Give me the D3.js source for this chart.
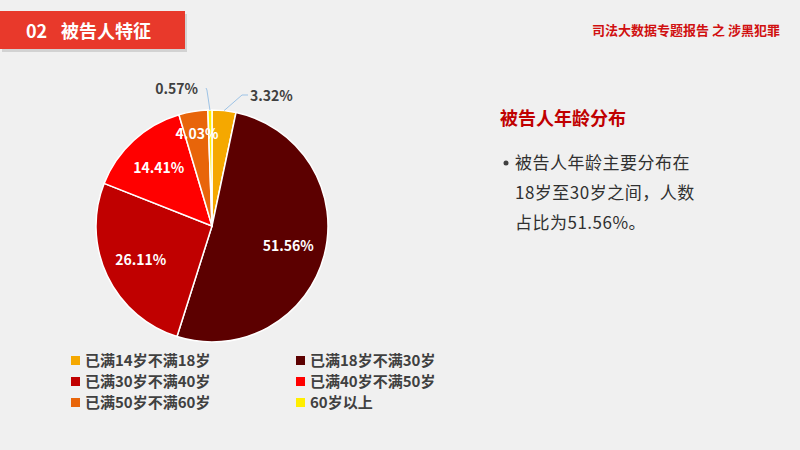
<!DOCTYPE html>
<html lang="zh">
<head>
<meta charset="UTF-8" />
<script src="https://cdn.jsdelivr.net/npm/d3@7"></script>
<style>
  body { margin: 0; background: #f0f0f0; font-family: "Noto Sans CJK SC", "Noto Sans", sans-serif; }
</style>
</head>
<body>
<svg id="chart" width="800" height="450"></svg>
<script>
// data
const categories = ["已满14岁不满18岁", "已满18岁不满30岁", "已满30岁不满40岁", "已满40岁不满50岁", "已满50岁不满60岁", "60岁以上"];
const shares = [3.32, 51.56, 26.11, 14.41, 4.03, 0.57];
const colors = ["#f5a800", "#5c0000", "#c00000", "#ff0000", "#e8650a", "#ffee00"];
const bullet = ["被告人年龄主要分布在", "18岁至30岁之间，人数", "占比为51.56%。"];

const svg = d3.select("#chart");
svg.append("rect").attr("width", 800).attr("height", 450).attr("fill", "#f0f0f0");

// header
svg.append("rect").attr("x", 0).attr("y", 12).attr("width", 185).attr("height", 38)
  .attr("fill", "#000").attr("opacity", 0.12).attr("transform", "translate(2,2)");
svg.append("rect").attr("x", 0).attr("y", 11).attr("width", 185).attr("height", 38).attr("fill", "#e8392b");
svg.append("text").attr("x", 26).attr("y", 38).attr("fill", "#fff")
  .attr("font-size", 18).attr("font-weight", "bold").text("02");
svg.append("text").attr("x", 61).attr("y", 38).attr("fill", "#fff")
  .attr("font-size", 18).attr("font-weight", "bold").text("被告人特征");
svg.append("text").attr("x", 780).attr("y", 35).attr("text-anchor", "end").attr("fill", "#d01010")
  .attr("font-size", 13).attr("font-weight", "bold").text("司法大数据专题报告 之 涉黑犯罪");

// pie
const cx = 212, cy = 226, r = 116;
const pie = d3.pie().sort(null).value(d => d);
const arcs = pie(shares);
const arc = d3.arc().innerRadius(0).outerRadius(r);
const g = svg.append("g").attr("transform", `translate(${cx},${cy})`);
g.selectAll("path").data(arcs).join("path")
  .attr("d", arc).attr("fill", (d, i) => colors[i])
  .attr("stroke", "#fff").attr("stroke-width", 1.5);

const inner = d3.arc().innerRadius(r * 0.68).outerRadius(r * 0.68);
const labelArc = i => i === 4 ? d3.arc().innerRadius(r * 0.8).outerRadius(r * 0.8) : inner;
arcs.forEach((d, i) => {
  if (i === 0 || i === 5) return;
  const [x, y] = labelArc(i).centroid(d);
  g.append("text").attr("x", x).attr("y", y + 5).attr("text-anchor", "middle")
    .attr("fill", "#fff").attr("font-size", 14).attr("font-weight", "bold")
    .text(shares[i].toFixed(2) + "%");
});
// outside labels with leader lines
const outer = d3.arc().innerRadius(r).outerRadius(r);
[[0, 248, 95, "start"], [5, 200, 88, "end"]].forEach(([i, lx, ly, anchor]) => {
  const [px, py] = outer.centroid(arcs[i]);
  const bx = lx - cx, by = ly - cy;
  g.append("polyline")
    .attr("points", i === 0 ? `${px},${py} ${bx - 6},${by} ${bx},${by}` : `${px},${py} ${px - 3},${by + 2} ${bx + 6},${by}`)
    .attr("fill", "none").attr("stroke", "#9dc3e6").attr("stroke-width", 1);
  svg.append("text").attr("x", lx + (anchor === "start" ? 2 : -2)).attr("y", ly + 6)
    .attr("text-anchor", anchor).attr("fill", "#404040")
    .attr("font-size", 14).attr("font-weight", "bold").text(shares[i].toFixed(2) + "%");
});

// legend
categories.forEach((c, i) => {
  const x = i % 2 === 0 ? 71 : 296;
  const y = 361 + Math.floor(i / 2) * 21;
  svg.append("rect").attr("x", x).attr("y", y - 5).attr("width", 9).attr("height", 9).attr("fill", colors[i]);
  svg.append("text").attr("x", x + 14).attr("y", y + 5).attr("fill", "#404040")
    .attr("font-size", 15).attr("font-weight", "bold").text(c);
});

// right text
svg.append("text").attr("x", 500).attr("y", 125).attr("fill", "#c00000")
  .attr("font-size", 18).attr("font-weight", "bold").text("被告人年龄分布");
svg.append("circle").attr("cx", 506).attr("cy", 163).attr("r", 2.5).attr("fill", "#404040");
bullet.forEach((t, i) => {
  svg.append("text").attr("x", 515).attr("y", 169 + i * 30).attr("fill", "#303030")
    .attr("font-size", 17).attr("letter-spacing", 0.5).text(t);
});
</script>
</body>
</html>
